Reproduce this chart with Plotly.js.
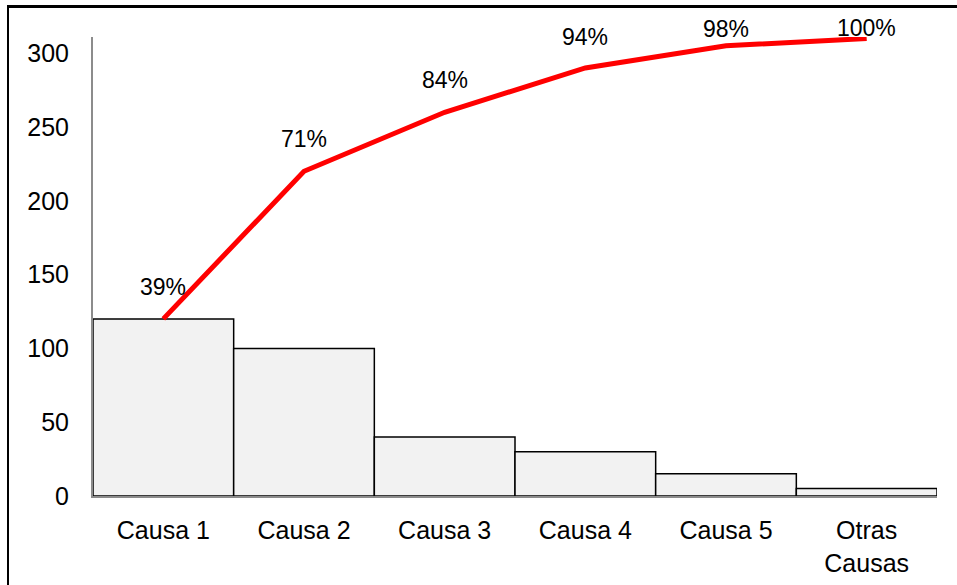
<!DOCTYPE html>
<html>
<head>
<meta charset="utf-8">
<script src="https://cdn.plot.ly/plotly-3.0.1.min.js"></script>
<style>
  html, body { margin: 0; padding: 0; background: #fff; overflow: hidden; }
  #chart { width: 957px; height: 585px; position: relative; }
  #frame { position: absolute; left: 7px; top: 5px; width: 2000px; height: 2000px;
           border-left: 2px solid #000; border-top: 3px solid #000; pointer-events: none; }
</style>
</head>
<body>
<div id="chart"></div>
<div id="frame"></div>
<script>
const categories = ["Causa 1", "Causa 2", "Causa 3", "Causa 4", "Causa 5", "Otras<br>Causas"];
const counts = [120, 100, 40, 30, 15, 5];
const cumulative = [120, 220, 260, 290, 305, 310];
const pctLabels = ["39%", "71%", "84%", "94%", "98%", "100%"];
const yTicks = [0, 50, 100, 150, 200, 250, 300];

const labelShift = [32, 32, 32, 31, 17, 10];

const bars = {
  type: "bar",
  x: categories,
  y: counts,
  marker: { color: "#f2f2f2", line: { color: "#000000", width: 1.5 } },
  hoverinfo: "skip"
};
const line = {
  type: "scatter",
  mode: "lines",
  x: categories,
  y: cumulative,
  line: { color: "#ff0000", width: 5 },
  cliponaxis: false,
  hoverinfo: "skip"
};

const annotations = categories.map((c, i) => ({
  x: c, y: cumulative[i], xref: "x", yref: "y",
  text: pctLabels[i], showarrow: false,
  yanchor: "middle", yshift: labelShift[i],
  font: { family: "Liberation Sans, Arial, sans-serif", size: 23, color: "#000" }
}));

const layout = {
  width: 957, height: 585,
  margin: { l: 93, r: 20, t: 37, b: 89 },
  paper_bgcolor: "#ffffff",
  plot_bgcolor: "#ffffff",
  showlegend: false,
  bargap: 0,
  font: { family: "Liberation Sans, Arial, sans-serif", size: 25, color: "#000" },
  xaxis: {
    type: "category",
    range: [-0.5, 5.5],
    showline: true, linecolor: "#8c8c8c", linewidth: 2,
    showgrid: false, zeroline: false, ticks: "",
    ticklabelstandoff: 11,
    tickfont: { size: 25 }
  },
  yaxis: {
    range: [0, 311],
    tickvals: yTicks,
    showline: true, linecolor: "#8c8c8c", linewidth: 2,
    showgrid: false, zeroline: false, ticks: "",
    ticklabelstandoff: 17,
    tickfont: { size: 25 }
  },
  annotations: annotations
};

Plotly.newPlot("chart", [bars, line], layout, { displayModeBar: false, staticPlot: true });
</script>
</body>
</html>
